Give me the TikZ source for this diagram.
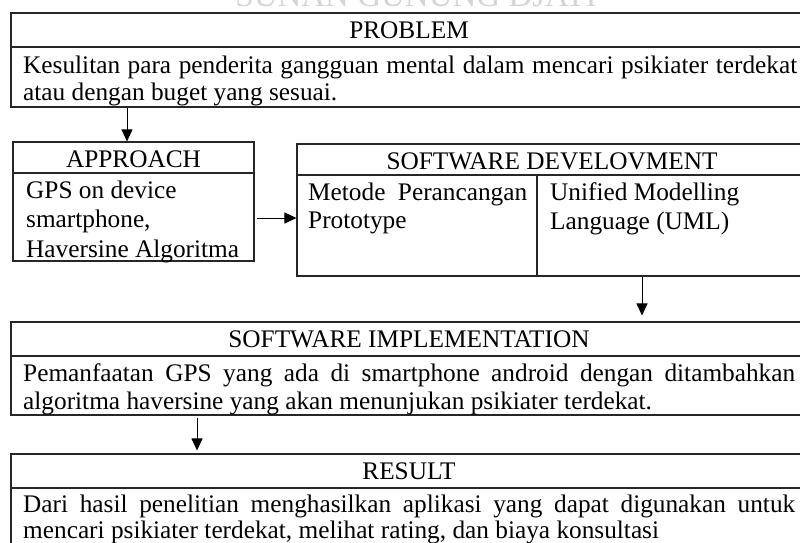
\documentclass[tikz,border=0pt]{standalone}
\usepackage{fontspec}
\setmainfont{Liberation Serif}
\usetikzlibrary{calc, arrows.meta}
\tikzset{>={Triangle[length=12pt, width=11pt]}}
\tikzset{
  box/.style={draw=black!85, line width=1.1pt, rectangle, inner sep=0pt},
  rule/.style={draw=black!85, line width=1.1pt},
  arr/.style={draw=black, line width=1pt, ->},
  title/.style={anchor=base, inner sep=0pt, font=\fontsize{25.3}{30}\selectfont},
  body/.style={anchor=base west, inner sep=0pt, font=\fontsize{25.3}{30}\selectfont}
}

\begin{document}
\begin{tikzpicture}[x=1pt, y=-1pt]
\useasboundingbox (0,0) rectangle (800,543);
\clip (0,0) rectangle (800,543);
\node[anchor=base, inner sep=0pt, text=black!17, font=\fontsize{33}{33}\selectfont] (mark) at (416,7) {SUNAN GUNUNG DJATI};

% boxes
\node[box, minimum width=796pt, minimum height=94pt] (problem) at (409,60) {};
\node[box, minimum width=241pt, minimum height=119pt] (approach) at (133.5,201.5) {};
\node[box, minimum width=510pt, minimum height=132pt] (develop) at (552,210) {};
\node[box, minimum width=796pt, minimum height=93pt] (implement) at (409,368.5) {};
\node[box, minimum width=796pt, minimum height=106pt] (result) at (409,507) {};
\draw[rule] (problem.west |- 0,47) -- (problem.east |- 0,47);
\draw[rule] (approach.west |- 0,173) -- (approach.east |- 0,173);
\draw[rule] (develop.west |- 0,175) -- (develop.east |- 0,175);
\draw[rule] (develop.south -| 537,0) -- (537,175);
\draw[rule] (implement.west |- 0,356) -- (implement.east |- 0,356);
\draw[rule] (result.west |- 0,488) -- (result.east |- 0,488);

% texts
\node[title] (problemtitle) at (409,38) {PROBLEM};
\node[body] (problemtxt1) at (23,74) {\makebox[774pt][s]{Kesulitan para penderita gangguan mental dalam mencari psikiater terdekat}};
\node[body] (problemtxt2) at (23,100) {atau dengan buget yang sesuai.};

\node[title] (approachtitle) at (133.5,167) {APPROACH};
\node[body] (approachtxt1) at (26,198) {GPS on device};
\node[body] (approachtxt2) at (26,227) {smartphone,};
\node[body] (approachtxt3) at (26,257) {Haversine Algoritma};

\node[title] (developtitle) at (552,169) {SOFTWARE DEVELOVMENT};
\node[body] (developtxt1) at (308,200) {\makebox[219pt][s]{Metode Perancangan}};
\node[body] (developtxt2) at (308,228) {Prototype};
\node[body] (developtxt3) at (550,200) {Unified Modelling};
\node[body] (developtxt4) at (550,229) {Language (UML)};

\node[title] (implementtitle) at (409,347) {SOFTWARE IMPLEMENTATION};
\node[body] (implementtxt1) at (23,381) {\makebox[772pt][s]{Pemanfaatan GPS yang ada di smartphone android dengan ditambahkan}};
\node[body] (implementtxt2) at (23,409) {algoritma haversine yang akan menunjukan psikiater terdekat.};

\node[title] (resulttitle) at (409,479) {RESULT};
\node[body] (resulttxt1) at (23,512) {\makebox[772pt][s]{Dari hasil penelitian menghasilkan aplikasi yang dapat digunakan untuk}};
\node[body] (resulttxt2) at (23,538) {mencari psikiater terdekat, melihat rating, dan biaya konsultasi};

% arrows
\coordinate (a1) at (127,0);
\coordinate (a2) at (0,218);
\coordinate (a3) at (642,0);
\coordinate (a4) at (197,0);
\draw[arr] (problem.south -| a1) -- (approach.north -| a1);
\draw[arr] ($(approach.east |- a2)+(2,0)$) -- (develop.west |- a2);
\draw[arr] (develop.south -| a3) -- ($(implement.north -| a3)+(0,-6)$);
\draw[arr] ($(implement.south -| a4)+(0,2)$) -- ($(result.north -| a4)+(0,-3)$);
\end{tikzpicture}
\end{document}
